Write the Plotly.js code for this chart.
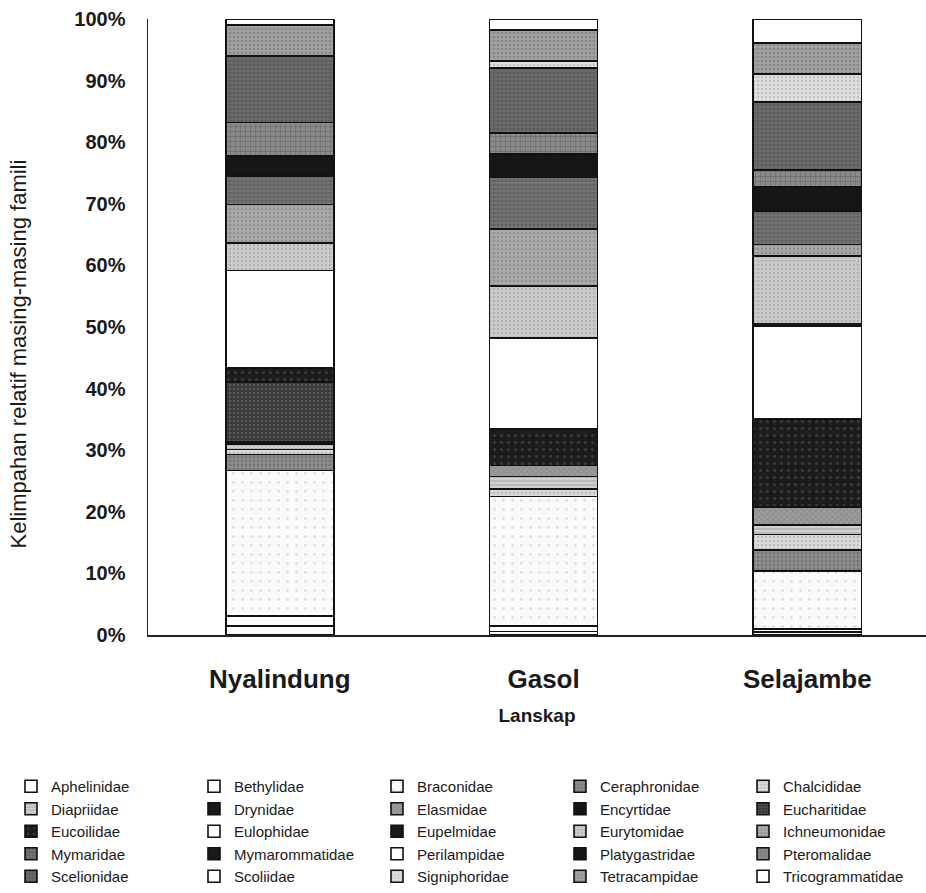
<!DOCTYPE html>
<html>
<head>
<meta charset="utf-8">
<script src="https://cdn.plot.ly/plotly-3.0.1.min.js"></script>
<style>html,body{margin:0;padding:0;background:#fff;}#chart{width:926px;height:893px;}</style>
</head>
<body>
<div id="chart"></div>
<script>
// ---- data ----
const landscapes = ["Nyalindung", "Gasol", "Selajambe"];
const families = ["Aphelinidae","Bethylidae","Braconidae","Ceraphronidae","Chalcididae",
  "Diapriidae","Drynidae","Elasmidae","Encyrtidae","Eucharitidae",
  "Eucoilidae","Eulophidae","Eupelmidae","Eurytomidae","Ichneumonidae",
  "Mymaridae","Mymarommatidae","Perilampidae","Platygastridae","Pteromalidae",
  "Scelionidae","Scoliidae","Signiphoridae","Tetracampidae","Tricogrammatidae"];
// relative abundance (%) per family, order: Nyalindung, Gasol, Selajambe
const Aphelinidae      = [1.5, 0.6, 0.5];
const Bethylidae       = [1.6, 0.9, 0.5];
const Braconidae       = [23.6, 21.0, 9.4];
const Ceraphronidae    = [2.6, 0, 3.4];
const Chalcididae      = [0.8, 1.2, 2.5];
const Diapriidae       = [0.8, 2.0, 1.6];
const Drynidae         = [0, 0, 0];
const Elasmidae        = [0, 1.8, 2.9];
const Encyrtidae       = [0.5, 0, 0];
const Eucharitidae     = [9.7, 0, 0];
const Eucoilidae       = [2.2, 5.9, 14.3];
const Eulophidae       = [15.9, 14.8, 15.1];
const Eupelmidae       = [0, 0, 0.4];
const Eurytomidae      = [4.4, 8.5, 10.9];
const Ichneumonidae    = [6.3, 9.2, 1.9];
const Mymaridae        = [4.6, 8.4, 5.4];
const Mymarommatidae   = [0, 0, 0];
const Perilampidae     = [0, 0, 0];
const Platygastridae   = [3.3, 3.8, 3.9];
const Pteromalidae     = [5.4, 3.4, 2.8];
const Scelionidae      = [10.8, 10.5, 11.0];
const Scoliidae        = [0, 0, 0];
const Signiphoridae    = [0, 1.2, 4.6];
const Tetracampidae    = [5.0, 5.0, 5.0];
const Tricogrammatidae = [1.0, 1.8, 3.9];
const yTicks = [0,10,20,30,40,50,60,70,80,90,100];

const values = [Aphelinidae,Bethylidae,Braconidae,Ceraphronidae,Chalcididae,
  Diapriidae,Drynidae,Elasmidae,Encyrtidae,Eucharitidae,
  Eucoilidae,Eulophidae,Eupelmidae,Eurytomidae,Ichneumonidae,
  Mymaridae,Mymarommatidae,Perilampidae,Platygastridae,Pteromalidae,
  Scelionidae,Scoliidae,Signiphoridae,Tetracampidae,Tricogrammatidae];

// ---- styles (bg colour, pattern shape, pattern colour, size, solidity) ----
const styles = [
  ["#ffffff","",null],["#ffffff","",null],["#fafafa",".","#c4c4c4",9,0.08],
  ["#8e8e8e",".","#5a5a5a",4,0.4],["#dadada",".","#9a9a9a",4,0.3],
  ["#cfcfcf","-","#8a8a8a",4,0.3],["#1a1a1a","",null],["#9c9c9c","x","#666666",4,0.3],
  ["#141414","",null],["#3a3a3a",".","#767676",4,0.35],
  ["#1c1c1c",".","#5a5a5a",7,0.15],["#ffffff","",null],["#1a1a1a","",null],
  ["#cacaca",".","#9a9a9a",4,0.3],["#a9a9a9",".","#777777",4,0.35],
  ["#727272",".","#4a4a4a",4,0.35],["#1a1a1a","",null],["#ffffff","",null],
  ["#161616","",null],["#8a8a8a","+","#555555",5,0.3],
  ["#6a6a6a",".","#474747",4,0.35],["#ffffff","",null],["#dedede",".","#a8a8a8",4,0.3],
  ["#a2a2a2",".","#6e6e6e",4,0.35],["#ffffff","",null]
];

const FONT = 'Arial, "Liberation Sans", sans-serif';

const traces = families.map((name, i) => {
  const s = styles[i];
  const marker = { color: s[0], line: { color: "#111", width: 1.6 } };
  if (s[1]) {
    marker.pattern = { shape: s[1], fgcolor: s[2], bgcolor: s[0], size: s[3], solidity: s[4], fillmode: "overlay" };
  }
  return { type: "bar", name: name, x: landscapes, y: values[i], marker: marker, hoverinfo: "name+y" };
});

const layout = {
  width: 926, height: 893,
  paper_bgcolor: "#fff", plot_bgcolor: "#fff",
  margin: { l: 148, r: 0, t: 19, b: 257 },
  barmode: "stack", barnorm: "percent", bargap: 0.59,
  font: { family: FONT, color: "#1a1a1a" },
  showlegend: true,
  legend: {
    orientation: "h", traceorder: "normal",
    x: (13 - 148) / 778, xanchor: "left",
    y: (636 - 771) / 617, yanchor: "top",
    entrywidth: 138, entrywidthmode: "pixels",
    font: { family: FONT, size: 15, color: "#1a1a1a" },
    bgcolor: "rgba(0,0,0,0)"
  },
  xaxis: {
    type: "category", range: [-0.5, 2.45], fixedrange: true,
    showline: true, linecolor: "#222", linewidth: 1.5, mirror: false,
    ticks: "", showgrid: false, zeroline: false,
    tickfont: { family: FONT, size: 26, weight: "bold", color: "#1a1a1a" },
    ticklabelstandoff: 20,
    title: { text: "Lanskap", font: { family: FONT, size: 19, weight: "bold", color: "#1a1a1a" }, standoff: 16 }
  },
  yaxis: {
    range: [0, 100], fixedrange: true,
    tickvals: yTicks, ticktext: yTicks.map(v => v + "%"),
    showline: true, linecolor: "#222", linewidth: 1.5,
    ticks: "", showgrid: false, zeroline: false,
    tickfont: { family: FONT, size: 20, weight: "bold", color: "#1a1a1a" },
    ticklabelstandoff: 17
  },
  annotations: [{
    text: "Kelimpahan relatif masing-masing famili",
    xref: "paper", yref: "paper",
    x: (18 - 148) / 778, y: (636 - 355) / 617,
    xanchor: "center", yanchor: "middle",
    textangle: -90, showarrow: false,
    font: { family: FONT, size: 22, color: "#1a1a1a" }
  }]
};

Plotly.newPlot("chart", traces, layout, { displayModeBar: false, staticPlot: true });
</script>
</body>
</html>
